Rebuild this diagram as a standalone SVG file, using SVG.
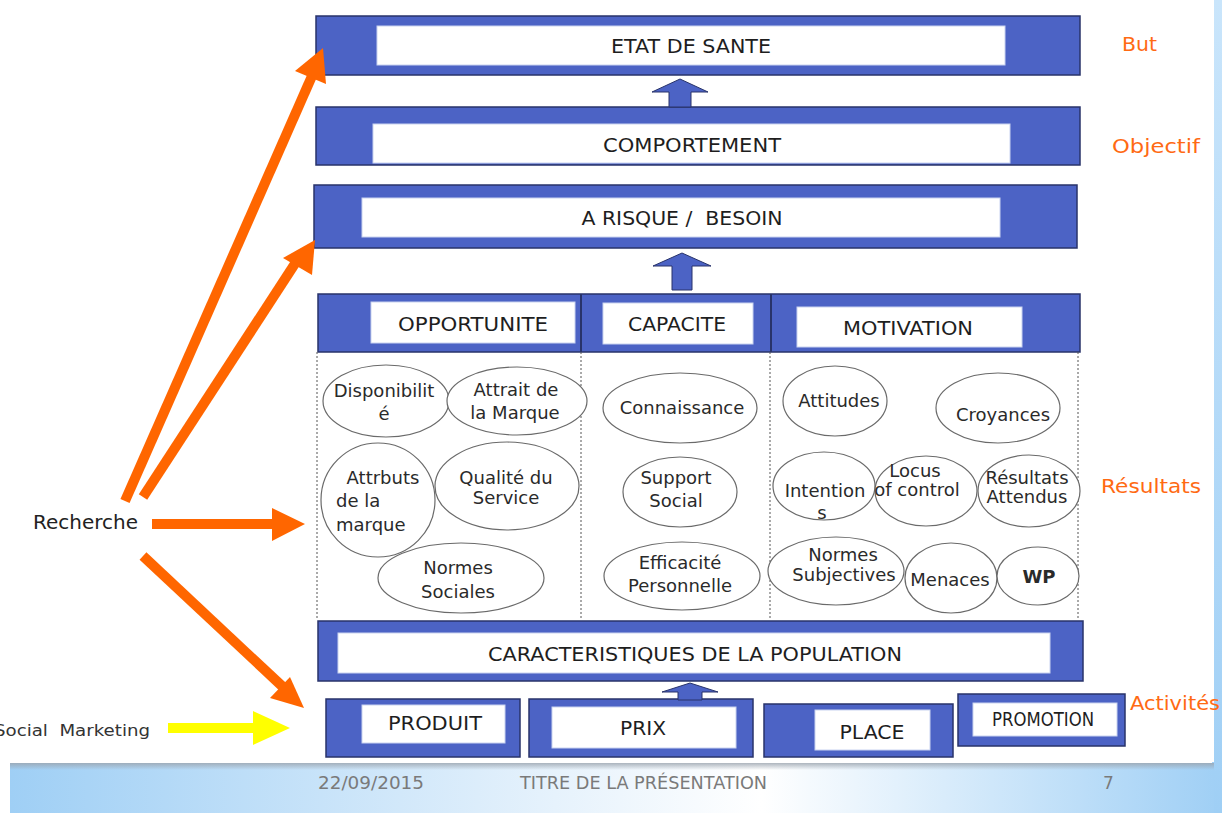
<svg xmlns="http://www.w3.org/2000/svg" width="1222" height="813" viewBox="0 0 1222 813">
  <style>
    .box { fill: #4c63c5; stroke: #28336a; stroke-width: 1.5; }
    .inner { fill: #ffffff; stroke: #c9d3f0; stroke-width: 1; }
    .t { font-family: "DejaVu Sans", sans-serif; fill: #1e1e1e; text-anchor: middle; font-size: 20px; }
    .e { font-family: "DejaVu Sans", sans-serif; font-size: 18px; fill: #2a2a2a; text-anchor: middle; }
    .ell { fill: #ffffff; stroke: #6a6a6a; stroke-width: 1.2; }
    .dash { stroke: #555555; stroke-width: 1; stroke-dasharray: 2 2; fill: none; }
    .lab { font-family: "DejaVu Sans", sans-serif; font-size: 20px; fill: #ff6a13; }
    .foot { font-family: "DejaVu Sans", sans-serif; font-size: 17px; fill: #7a7a7a; }
    .up { fill: #4c63c5; stroke: #28336a; stroke-width: 1; }
    .orange { stroke: #ff6600; stroke-width: 10; fill: none; }
    .ohead { fill: #ff6600; }
    .left { text-anchor: start; }
  </style>
  <defs>
    <linearGradient id="band" x1="0" y1="0" x2="1" y2="0">
      <stop offset="0" stop-color="#9fcff5"/>
      <stop offset="0.45" stop-color="#e6f2fc"/>
      <stop offset="0.62" stop-color="#ffffff"/>
      <stop offset="1" stop-color="#9fcff5"/>
    </linearGradient>
    <linearGradient id="strip" x1="0" y1="0" x2="0" y2="1">
      <stop offset="0" stop-color="#c9e5fb"/>
      <stop offset="1" stop-color="#9fcff5"/>
    </linearGradient>
    <linearGradient id="shadowB" x1="0" y1="0" x2="0" y2="1">
      <stop offset="0" stop-color="#9aa3ad" stop-opacity="0.8"/>
      <stop offset="1" stop-color="#9aa3ad" stop-opacity="0"/>
    </linearGradient>
  </defs>

  <!-- slide background -->
  <rect x="0" y="0" width="1222" height="813" fill="#ffffff"/>
  <rect x="10" y="762" width="1212" height="51" fill="url(#band)"/>
  <rect x="1214" y="0" width="8" height="813" fill="url(#strip)"/>
  <rect x="10" y="763" width="1204" height="7" fill="url(#shadowB)"/>
  <rect x="0" y="0" width="1212" height="763" fill="#ffffff"/>

  <!-- goal / objective -->
  <g id="etat-de-sante">
    <rect class="box" x="316" y="16" width="764" height="59"/>
    <rect class="inner" x="377" y="26" width="628" height="39"/>
    <text class="t" x="691" y="53" textLength="160" lengthAdjust="spacingAndGlyphs">ETAT DE SANTE</text>
  </g>
  <g id="comportement">
    <rect class="box" x="316" y="107" width="764" height="58"/>
    <rect class="inner" x="373" y="124" width="637" height="39"/>
    <text class="t" x="692" y="152" textLength="178" lengthAdjust="spacingAndGlyphs">COMPORTEMENT</text>
  </g>
  <g id="a-risque">
    <rect class="box" x="314" y="185" width="763" height="63"/>
    <rect class="inner" x="362" y="198" width="638" height="39"/>
    <text class="t" x="682" y="225" textLength="201" lengthAdjust="spacingAndGlyphs" xml:space="preserve">A RISQUE /  BESOIN</text>
  </g>

  <!-- results header row -->
  <g id="header-row">
    <rect class="box" x="318" y="294" width="762" height="58"/>
    <line x1="581" y1="294" x2="581" y2="352" stroke="#28336a" stroke-width="2"/>
    <line x1="771" y1="294" x2="771" y2="352" stroke="#28336a" stroke-width="2"/>
  </g>
  <g id="opportunite">
    <rect class="inner" x="371" y="302" width="204" height="41"/>
    <text class="t" x="473" y="331" textLength="150" lengthAdjust="spacingAndGlyphs">OPPORTUNITE</text>
  </g>
  <g id="capacite">
    <rect class="inner" x="603" y="303" width="150" height="41"/>
    <text class="t" x="677" y="331" textLength="98" lengthAdjust="spacingAndGlyphs">CAPACITE</text>
  </g>
  <g id="motivation">
    <rect class="inner" x="797" y="307" width="225" height="40"/>
    <text class="t" x="908" y="335" textLength="130" lengthAdjust="spacingAndGlyphs">MOTIVATION</text>
  </g>

  <!-- column separators -->
  <g id="columns">
    <line class="dash" x1="317" y1="352" x2="317" y2="620"/>
    <line class="dash" x1="581" y1="352" x2="581" y2="620"/>
    <line class="dash" x1="770" y1="352" x2="770" y2="620"/>
    <line class="dash" x1="1078" y1="352" x2="1078" y2="620"/>
  </g>

  <!-- opportunite factors -->
  <g id="disponibilite">
    <ellipse class="ell" cx="386" cy="401" rx="63" ry="36"/>
    <text class="e" x="384" y="397" font-size="16.5">Disponibilit</text>
    <text class="e" x="384" y="420" font-size="16.5">é</text>
  </g>
  <g id="attrait">
    <ellipse class="ell" cx="517" cy="401" rx="70" ry="34"/>
    <text class="e" x="516" y="396">Attrait de</text>
    <text class="e" x="515" y="419">la Marque</text>
  </g>
  <g id="attributs">
    <ellipse class="ell" cx="378" cy="500" rx="57" ry="57"/>
    <text class="e" x="383" y="484" font-size="17.5">Attrbuts</text>
    <text class="e left" x="336" y="507" font-size="17.5">de la</text>
    <text class="e left" x="336" y="531" font-size="17.5">marque</text>
  </g>
  <g id="qualite">
    <ellipse class="ell" cx="507" cy="486" rx="72" ry="44"/>
    <text class="e" x="506" y="484" font-size="17">Qualité du</text>
    <text class="e" x="506" y="504" font-size="17">Service</text>
  </g>
  <g id="normes-sociales">
    <ellipse class="ell" cx="461" cy="578" rx="83" ry="35"/>
    <text class="e" x="458" y="574">Normes</text>
    <text class="e" x="458" y="598">Sociales</text>
  </g>

  <!-- capacite factors -->
  <g id="connaissance">
    <ellipse class="ell" cx="680" cy="408" rx="77" ry="35"/>
    <text class="e" x="682" y="414" font-size="17">Connaissance</text>
  </g>
  <g id="support-social">
    <ellipse class="ell" cx="680" cy="492" rx="57" ry="35"/>
    <text class="e" x="676" y="484">Support</text>
    <text class="e" x="676" y="507">Social</text>
  </g>
  <g id="efficacite">
    <ellipse class="ell" cx="682" cy="576" rx="78" ry="34"/>
    <text class="e" x="680" y="569" font-size="17.5">Efficacité</text>
    <text class="e" x="680" y="592" font-size="17.5">Personnelle</text>
  </g>

  <!-- motivation factors -->
  <g id="attitudes">
    <ellipse class="ell" cx="835" cy="401" rx="52" ry="35"/>
    <text class="e" x="839" y="407">Attitudes</text>
  </g>
  <g id="croyances">
    <ellipse class="ell" cx="998" cy="408" rx="62" ry="35"/>
    <text class="e" x="1003" y="421" font-size="17.5">Croyances</text>
  </g>
  <g id="intentions">
    <ellipse class="ell" cx="824" cy="486" rx="51" ry="34"/>
    <text class="e" x="825" y="497" font-size="14">Intention</text>
    <text class="e" x="822" y="519" font-size="14">s</text>
  </g>
  <g id="locus">
    <ellipse class="ell" cx="926" cy="491" rx="51" ry="35"/>
    <text class="e" x="915" y="477" font-size="12.5">Locus</text>
    <text class="e" x="917" y="496" font-size="12.5">of control</text>
  </g>
  <g id="resultats-attendus">
    <ellipse class="ell" cx="1029" cy="491" rx="51" ry="36"/>
    <text class="e" x="1027" y="484" font-size="14">Résultats</text>
    <text class="e" x="1027" y="503" font-size="14">Attendus</text>
  </g>
  <g id="normes-subjectives">
    <ellipse class="ell" cx="836" cy="571" rx="68" ry="34"/>
    <text class="e" x="843" y="561" font-size="14.5">Normes</text>
    <text class="e" x="844" y="581" font-size="14.5">Subjectives</text>
  </g>
  <g id="menaces">
    <ellipse class="ell" cx="951" cy="578" rx="46" ry="35"/>
    <text class="e" x="950" y="586" font-size="16.5">Menaces</text>
  </g>
  <g id="wp">
    <ellipse class="ell" cx="1038" cy="576" rx="41" ry="29"/>
    <text class="e" x="1039" y="583" font-size="13" font-weight="bold">WP</text>
  </g>

  <!-- population -->
  <g id="caracteristiques">
    <rect class="box" x="318" y="621" width="765" height="60"/>
    <rect class="inner" x="338" y="633" width="712" height="40"/>
    <text class="t" x="695" y="661" textLength="414" lengthAdjust="spacingAndGlyphs">CARACTERISTIQUES DE LA POPULATION</text>
  </g>

  <!-- marketing mix -->
  <g id="produit">
    <rect class="box" x="326" y="699" width="194" height="58"/>
    <rect class="inner" x="362" y="705" width="143" height="38"/>
    <text class="t" x="435" y="730" textLength="94" lengthAdjust="spacingAndGlyphs">PRODUIT</text>
  </g>
  <g id="prix">
    <rect class="box" x="529" y="699" width="224" height="58"/>
    <rect class="inner" x="552" y="707" width="184" height="41"/>
    <text class="t" x="643" y="735" textLength="46" lengthAdjust="spacingAndGlyphs">PRIX</text>
  </g>
  <g id="place">
    <rect class="box" x="764" y="704" width="189" height="53"/>
    <rect class="inner" x="815" y="710" width="115" height="40"/>
    <text class="t" x="872" y="739" textLength="65" lengthAdjust="spacingAndGlyphs">PLACE</text>
  </g>
  <g id="promotion">
    <rect class="box" x="958" y="694" width="167" height="52"/>
    <rect class="inner" x="973" y="703" width="144" height="33"/>
    <text class="t" x="1043" y="726" font-size="16" textLength="102" lengthAdjust="spacingAndGlyphs">PROMOTION</text>
  </g>

  <!-- side labels -->
  <g id="labels">
    <text class="lab" x="1122" y="51" textLength="35" lengthAdjust="spacingAndGlyphs">But</text>
    <text class="lab" x="1112" y="153" textLength="88" lengthAdjust="spacingAndGlyphs">Objectif</text>
    <text class="lab" x="1101" y="493" textLength="100" lengthAdjust="spacingAndGlyphs">Résultats</text>
    <text class="lab" x="1130" y="710" textLength="90" lengthAdjust="spacingAndGlyphs">Activités</text>
    <text x="33" y="529" font-family="DejaVu Sans, sans-serif" font-size="19" fill="#222222" textLength="105" lengthAdjust="spacingAndGlyphs">Recherche</text>
    <text x="-6" y="736" font-family="DejaVu Sans, sans-serif" font-size="16" fill="#333333" xml:space="preserve" textLength="156" lengthAdjust="spacingAndGlyphs">Social  Marketing</text>
  </g>

  <!-- connectors -->
  <g id="connectors">
    <!-- block arrows between levels -->
    <path class="up" d="M680 79 L708 92 L691 92 L691 107 L669 107 L669 92 L652 92 Z"/>
    <path class="up" d="M682 253 L711 266 L692 266 L692 290 L672 290 L672 266 L653 266 Z"/>
    <path class="up" d="M690 683 L718 692 L702 692 L702 700 L678 700 L678 692 L662 692 Z"/>

    <!-- research arrows -->
    <line class="orange" x1="125" y1="501" x2="312" y2="76"/>
    <polygon class="ohead" points="323,48 326,84 295,71"/>
    <line class="orange" x1="143" y1="497" x2="298" y2="259"/>
    <polygon class="ohead" points="315,240 312,275 283,258"/>
    <line class="orange" x1="152" y1="524" x2="275" y2="524"/>
    <polygon class="ohead" points="305,524 272,508 272,541"/>
    <line class="orange" x1="143" y1="556" x2="283" y2="687"/>
    <polygon class="ohead" points="304,708 290,677 270,698"/>

    <!-- social marketing arrow -->
    <line x1="168" y1="728" x2="256" y2="728" stroke="#ffff00" stroke-width="10"/>
    <polygon points="290,728 253,711 253,745" fill="#ffff00"/>
  </g>

  <!-- footer -->
  <g id="footer">
    <text class="foot" x="318" y="789" textLength="106" lengthAdjust="spacingAndGlyphs">22/09/2015</text>
    <text class="foot" x="520" y="789" textLength="247" lengthAdjust="spacingAndGlyphs">TITRE DE LA PRÉSENTATION</text>
    <text class="foot" x="1103" y="789">7</text>
  </g>
</svg>
